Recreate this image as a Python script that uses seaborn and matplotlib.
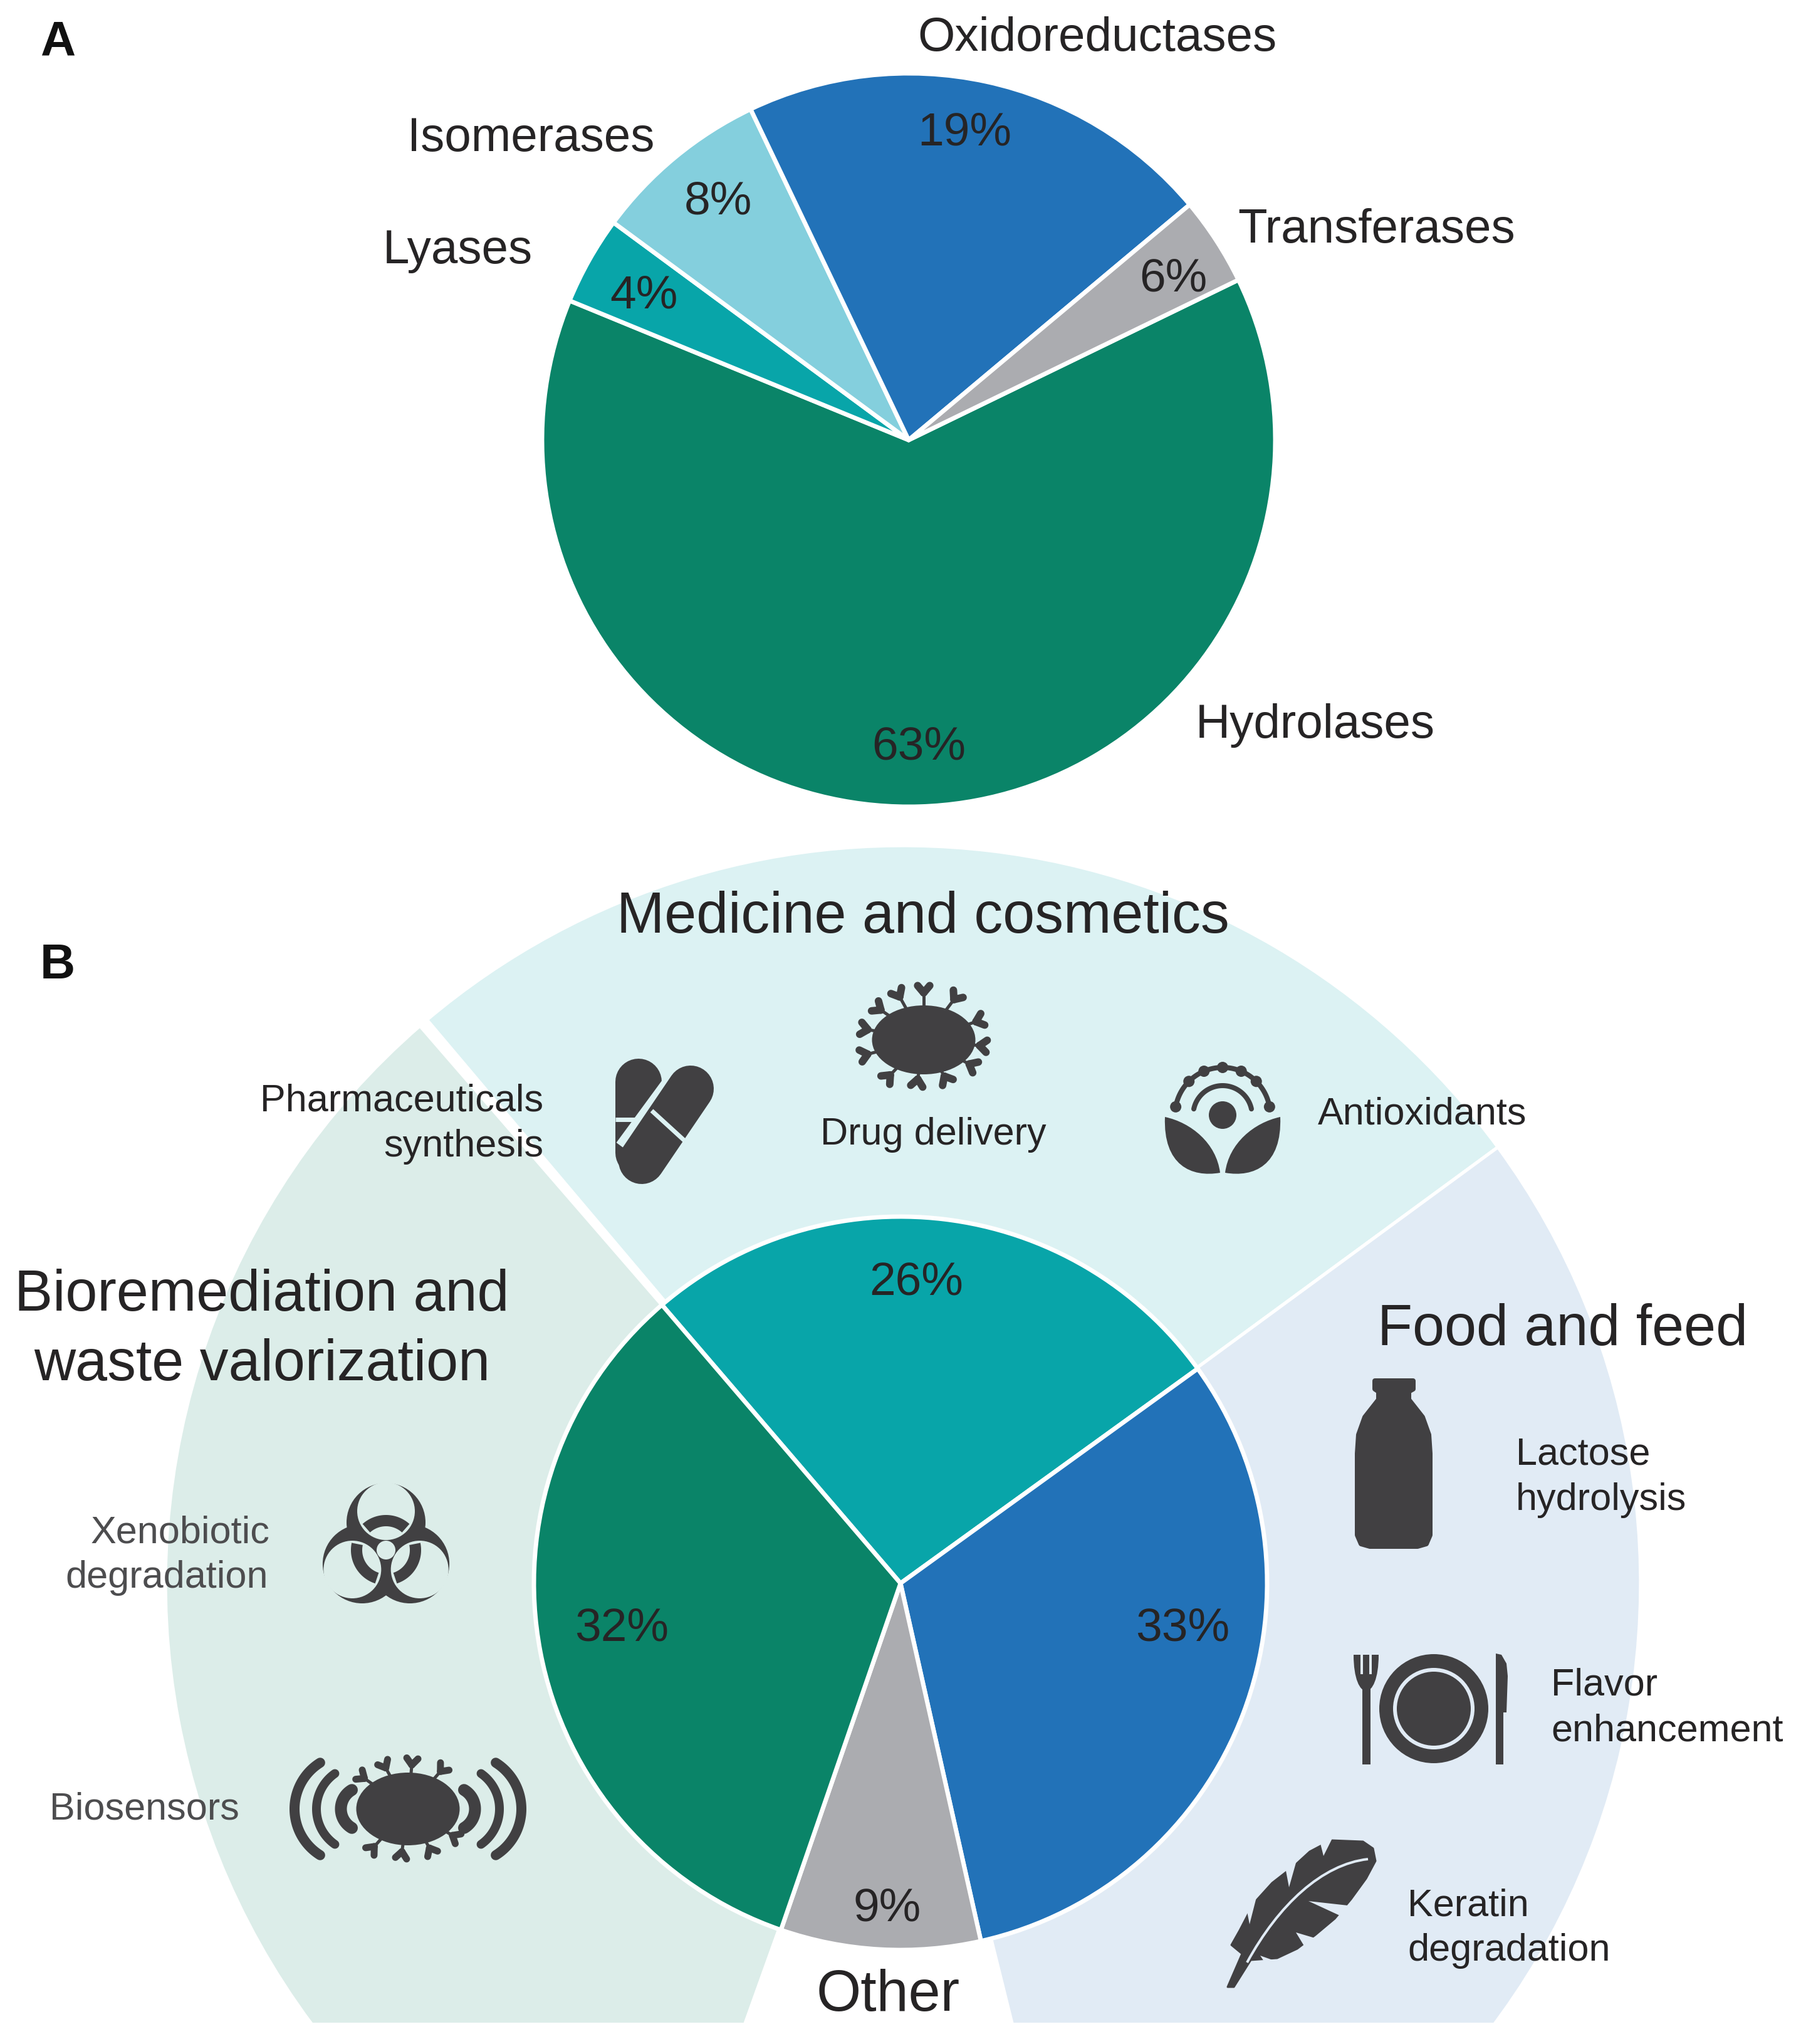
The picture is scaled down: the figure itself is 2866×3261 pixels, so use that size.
import numpy as np
import matplotlib
matplotlib.use("Agg")
import matplotlib.pyplot as plt
import seaborn as sns
from matplotlib.patches import Circle, Ellipse, Polygon, PathPatch, Rectangle
from matplotlib.path import Path

# ---------- data ----------
classes = ["Hydrolases", "Lyases", "Isomerases", "Oxidoreductases", "Transferases"]
class_sizes = [63.4, 3.9, 7.8, 21.0, 3.9]
class_pct = ["63%", "4%", "8%", "19%", "6%"]
class_colors = ["#0a8468", "#08a5a9", "#84cfdd", "#2272b8", "#abacb0"]

fields = ["Medicine and cosmetics", "Food and feed", "Other", "Bioremediation and\nwaste valorization"]
field_sizes = [26.3, 31.4, 8.8, 33.4]
field_pct = ["26%", "33%", "9%", "32%"]
field_colors = ["#08a5a9", "#2272b8", "#abacb0", "#0a8468"]

halo_sizes = [26.1, 31.2, 9.35, 33.15, 0.2]
halo_colors = ["#dcf2f3", "#e1ebf5", "none", "#dcede9", "none"]

# ---------- style ----------
sns.set_theme(style="white")
plt.rcParams["font.family"] = ["Liberation Sans", "DejaVu Sans"]
INK = "#414042"
TXT = "#262425"
GREY = "#4d4d4f"
BG_M, BG_F, BG_B = "#dcf2f3", "#e1ebf5", "#dcede9"
W, H = 2866, 3262
DPI = 100
pt = 72 / DPI

fig = plt.figure(figsize=(W / DPI, H / DPI), dpi=DPI, facecolor="white")
ax = fig.add_axes([0, 0, 1, 1])


def limits():
    ax.set_xlim(0, W)
    ax.set_ylim(H, 0)
    ax.axis("off")


CA = (1450, 703)
CB = (1437, 2527)
R = 585
EDGE = dict(edgecolor="white", linewidth=5, joinstyle="round")
# The y axis runs downward, so positive data angles turn clockwise on the page
halo, _ = ax.pie(halo_sizes, colors=sns.color_palette(["#ffffff" if c == "none" else c for c in halo_colors]),
                 startangle=-130.2, counterclock=True, center=(1441, 2527), radius=1177,
                 wedgeprops=dict(edgecolor="white", linewidth=3.8, joinstyle="round"))
for w, c in zip(halo, halo_colors):
    if c == "none":
        w.set_visible(False)
    w.set_clip_on(True)
    w.set_clip_path(Rectangle((0, 0), W, 3228, transform=ax.transData))
ax.pie(field_sizes, colors=sns.color_palette(field_colors), startangle=-130.6, counterclock=True,
       center=CB, radius=R, wedgeprops=EDGE)
ax.pie(class_sizes, colors=sns.color_palette(class_colors), startangle=-25.9, counterclock=True,
       center=CA, radius=R, wedgeprops=EDGE)
limits()


# ---------- text ----------
def t(x, y, s, size, ha="center", color=TXT, **kw):
    ax.text(x, y + 6, s, fontsize=size, ha=ha, va="center", color=color, **kw)


S_BIG, S_MID, S_PCT, S_SM = 66, 55, 54, 44
t(92, 62, "A", 56, fontweight="bold", color="#111111")
t(92, 1535, "B", 56, fontweight="bold", color="#111111")
for s, x, y in zip(classes, [2099, 730, 847, 1751, 2197], [1152, 395, 216, 56, 362]):
    t(x, y, s, S_MID)
for s, x, y in zip(class_pct, [1466, 1027, 1146, 1539, 1872], [1186, 466, 316, 206, 439]):
    t(x, y, s, S_PCT)
for s, x, y in zip(field_pct, [1462, 1887, 1416, 992], [2040, 2592, 3039, 2592]):
    t(x, y, s, S_PCT)
t(1473, 1458, fields[0], S_BIG)
t(418, 2061, fields[3].split("\n")[0], S_BIG)
t(418, 2172, fields[3].split("\n")[1], S_BIG)
t(2494, 2116, fields[1], S_BIG)
t(1417, 3178, fields[2], S_BIG)

t(867, 1751, "Pharmaceuticals", S_SM, ha="right")
t(867, 1824, "synthesis", S_SM, ha="right")
t(1489, 1805, "Drug delivery", S_SM)
t(2103, 1772, "Antioxidants", S_SM, ha="left")
t(431, 2440, "Xenobiotic", S_SM, ha="right", color=GREY)
t(428, 2512, "degradation", S_SM, ha="right", color=GREY)
t(79, 2881, "Biosensors", S_SM, ha="left", color=GREY)
t(2419, 2315, "Lactose", S_SM, ha="left")
t(2419, 2388, "hydrolysis", S_SM, ha="left")
t(2475, 2683, "Flavor", S_SM, ha="left")
t(2475, 2756, "enhancement", S_SM, ha="left")
t(2246, 3035, "Keratin", S_SM, ha="left")
t(2246, 3107, "degradation", S_SM, ha="left")


# ---------- icons (page-pixel geometry) ----------
def line(xs, ys, w, color=INK, cap="round", z=5):
    ax.plot(xs, ys, color=color, lw=w * pt, solid_capstyle=cap, zorder=z)


def patch(p, z=5):
    p.set_zorder(z)
    ax.add_patch(p)


def disc(x, y, r, color=INK, z=5):
    patch(Circle((x, y), r, fc=color, ec="none"), z)


def arc(cx, cy, r, a0, a1, w, color=INK, z=5, cap="round"):
    a = np.radians(np.linspace(a0, a1, 60))
    line(cx + r * np.cos(a), cy + r * np.sin(a), w, color, z=z, cap=cap)


def receptor(cx, cy, dx, dy, lobe=15, stem=5, lw=12):
    L = np.hypot(dx, dy)
    u = np.array([dx, dy]) / L
    end = np.array([cx, cy]) + u * (L - lobe)
    line([cx, end[0]], [cy, end[1]], stem, cap="butt")
    for s in (-1, 1):
        c, n = np.cos(s * 0.7), np.sin(s * 0.7)
        v = np.array([u[0] * c - u[1] * n, u[0] * n + u[1] * c])
        tip = end + v * lobe
        line([end[0], tip[0]], [end[1], tip[1]], lw)


# pills
line([1019, 1019], [1727, 1840], 74)
line([1102, 1019], [1737, 1850], 88, BG_M, cap="butt", z=6)
ax.plot([1102], [1737], "o", ms=88 * pt, color=BG_M, zorder=6, mew=0)
line([982, 1056], [1787, 1787], 7, BG_M, cap="butt", z=6)
line([1102, 1024], [1738, 1853], 74, z=7)
line([1040, 1098], [1773, 1826], 7, BG_M, cap="butt", z=8)

# drug-delivery particle
tips1 = [(-43, -77), (0, -85), (54, -72), (92, -32), (98, 10), (81, 43),
         (38, 67), (-11, 73), (-60, 63), (-98, 25), (-98, -18), (-76, -53)]
for dx, dy in tips1:
    receptor(1474, 1660, dx * 1.06, dy * 1.06)
patch(Ellipse((1474, 1660), 165, 110, fc=INK, ec="none"), 6)

# flower
fx, fy = 1951, 1780
disc(fx, fy, 22)
arc(fx, fy, 76, 188, 352, 8)
arc(fx, fy, 47, 192, 348, 8)
for a in (190, 225, 270, 315, 350, 247, 293):
    disc(fx + 76 * np.cos(np.radians(a)), fy + 76 * np.sin(np.radians(a)), 9)
for s in (-1, 1):
    v = [(fx + s * 92, 1783), (fx + s * 95, 1860), (fx + s * 50, 1880), (fx + s * 4, 1872),
         (fx + s * 10, 1825), (fx + s * 50, 1792), (fx + s * 92, 1783)]
    codes = [Path.MOVETO] + [Path.CURVE4] * 6
    patch(PathPatch(Path(v, codes), fc=INK, ec="none"))

# biohazard
bx, by = 616, 2474
dirs = np.radians([-90, 30, 150])
for a in dirs:
    disc(bx + 44 * np.cos(a), by + 44 * np.sin(a), 63)
for a in dirs:
    disc(bx + 62 * np.cos(a), by + 62 * np.sin(a), 46, BG_B, z=6)
for a in np.degrees(dirs):
    arc(bx, by, 47, a - 42, a + 42, 18, z=7, cap="butt")
disc(bx, by, 15, BG_B, z=8)

# biosensor
sx, sy = 651, 2887
tips2 = [(-40, -74), (7, -80), (58, -67), (-77, -54), (79, 47), (-60, 67), (-11, 78), (39, 71)]
for dx, dy in tips2:
    receptor(sx, sy, dx * 1.05, dy * 1.05, lobe=14, lw=11)
for r0, r1, off, sweep, lw in ((181, 87, 94, 58, 16), (146, 69, 77, 55, 14), (107, 35, 72, 60, 19)):
    arc(sx + off, sy, r1, -sweep, sweep, lw)
    arc(sx - off, sy, r1, 180 - sweep, 180 + sweep, lw)
patch(Ellipse((sx, sy), 165, 116, fc=INK, ec="none"), 6)

# bottle
patch(Polygon([(2194, 2204), (2255, 2204), (2255, 2217), (2248, 2221), (2248, 2234), (2270, 2262), (2280, 2290),
               (2282, 2320), (2282, 2450), (2276, 2464), (2262, 2468), (2186, 2468), (2172, 2464), (2166, 2450),
               (2166, 2320), (2168, 2290), (2178, 2262), (2200, 2234), (2200, 2221), (2194, 2217)],
              closed=True, fc=INK, ec=INK, lw=8 * pt, joinstyle="round"))

# plate, fork, knife
disc(2288, 2727, 87)
disc(2288, 2727, 65, BG_F)
disc(2288, 2727, 59)
ax.add_patch(Rectangle((2174, 2680), 13, 136, fc=INK, ec="none", zorder=5))
patch(PathPatch(Path([(2160, 2641), (2160, 2718), (2200, 2718), (2200, 2641), (2160, 2641)],
                     [Path.MOVETO, Path.CURVE4, Path.CURVE4, Path.CURVE4, Path.CLOSEPOLY]), fc=INK, ec="none"))
for x in (2173, 2187):
    line([x, x], [2641, 2672], 4, BG_F, cap="butt", z=6)
patch(Polygon([(2387, 2639), (2396, 2641), (2404, 2655), (2406, 2675), (2404, 2733), (2399, 2733), (2399, 2816),
               (2387, 2816)], closed=True, fc=INK, ec="none"))

# feather
patch(Polygon([(2175, 2939), (2124, 2937), (2090, 2955), (2066, 2977), (2030, 3005), (2001, 3037),
               (1978, 3081), (1965, 3104), (1982, 3118), (1959, 3171), (1969, 3171), (1996, 3128),
               (2038, 3125), (2070, 3110), (2099, 3088), (2130, 3062), (2156, 3031), (2180, 2998),
               (2195, 2970), (2191, 2950)], closed=True, fc=INK, ec=INK, lw=3 * pt, joinstyle="round"))
sp = Path([(2183, 2967), (2110, 2975), (2040, 3040), (1990, 3132)],
          [Path.MOVETO, Path.CURVE4, Path.CURVE4, Path.CURVE4])
patch(PathPatch(sp, fc="none", ec=BG_F, lw=4 * pt), 6)
for v in ([(2128, 2930), (2112, 2962), (2106, 2938)],
          [(2070, 2966), (2057, 3012), (2050, 2975)],
          [(2005, 3028), (1994, 3071), (1988, 3040)],
          [(2160, 3042), (2088, 3034), (2140, 3058)],
          [(2105, 3095), (2068, 3084), (2085, 3112)],
          [(2042, 3132), (2011, 3121), (2025, 3142)]):
    patch(Polygon(v, closed=True, fc=BG_F, ec="none"), 6)

limits()
fig.savefig("out.png", dpi=DPI, facecolor="white")
